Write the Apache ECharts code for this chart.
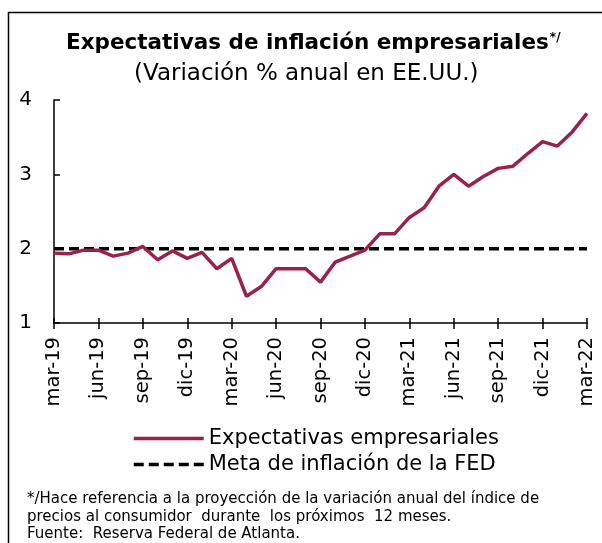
<!DOCTYPE html>
<html>
<head>
<meta charset="utf-8">
<script src="https://cdn.jsdelivr.net/npm/echarts@6/dist/echarts.min.js"></script>
<style>
  html, body { margin: 0; padding: 0; background: #fff; }
  #main { width: 602px; height: 543px; }
</style>
</head>
<body>
<div id="main"></div>
<script>
  // monthly, mar-19 .. mar-22
  const months = [
    'mar-19', 'abr-19', 'may-19', 'jun-19', 'jul-19', 'ago-19', 'sep-19', 'oct-19', 'nov-19', 'dic-19', 'ene-20', 'feb-20',
    'mar-20', 'abr-20', 'may-20', 'jun-20', 'jul-20', 'ago-20', 'sep-20', 'oct-20', 'nov-20', 'dic-20', 'ene-21', 'feb-21',
    'mar-21', 'abr-21', 'may-21', 'jun-21', 'jul-21', 'ago-21', 'sep-21', 'oct-21', 'nov-21', 'dic-21', 'ene-22', 'feb-22',
    'mar-22'
  ];
  const expectativas = [
    1.94, 1.93, 1.98, 1.98, 1.90, 1.94, 2.03, 1.85, 1.97, 1.87, 1.95, 1.73,
    1.87, 1.36, 1.49, 1.73, 1.73, 1.73, 1.55, 1.82, 1.90, 1.98, 2.20, 2.20,
    2.42, 2.55, 2.84, 3.00, 2.84, 2.97, 3.08, 3.11, 3.28, 3.44, 3.38, 3.57,
    3.82
  ];
  const metaFed = months.map(() => 2);
  const footnote = [
    '*/Hace referencia a la proyección de la variación anual del índice de',
    'precios al consumidor  durante  los próximos  12 meses.',
    'Fuente:  Reserva Federal de Atlanta.'
  ];

  const FONT = '"DejaVu Sans", sans-serif';
  const chart = echarts.init(document.getElementById('main'));

  chart.setOption({
    animation: false,
    textStyle: { fontFamily: FONT, color: '#000' },
    title: [
      {
        text: '{t|Expectativas de inflación empresariales}{s|*/}',
        left: 66,
        top: 32,
        padding: 0,
        textStyle: {
          rich: {
            t: { fontFamily: FONT, fontSize: 21.5, fontWeight: 'bold', color: '#000' },
            s: { fontFamily: FONT, fontSize: 12, fontWeight: 'bold', color: '#000', verticalAlign: 'top', padding: [0, 0, 10, 1] }
          }
        }
      },
      {
        text: '(Variación % anual en EE.UU.)',
        left: 134,
        top: 63,
        padding: 0,
        textStyle: { fontFamily: FONT, fontSize: 23, fontWeight: 'normal', color: '#000' }
      }
    ],
    grid: { left: 54, right: 15, top: 100, bottom: 220 },
    legend: {
      orient: 'vertical',
      left: 127,
      top: 423,
      itemWidth: 70,
      itemHeight: 14,
      itemGap: 5,
      itemStyle: { opacity: 0 },
      lineStyle: { width: 3.5 },
      textStyle: { fontFamily: FONT, fontSize: 21, color: '#000', padding: [0, 0, 0, 0] },
      data: ['Expectativas empresariales', 'Meta de inflación de la FED']
    },
    xAxis: [
      {
        type: 'category',
        data: months,
        boundaryGap: false,
        axisLine: { lineStyle: { color: '#000', width: 1.5 } },
        axisTick: { interval: 2, length: 6, lineStyle: { color: '#000', width: 1.5 } },
        axisLabel: { interval: 2, rotate: 90, fontSize: 19.5, color: '#000', margin: 14, fontFamily: FONT }
      },
      {
        // second axis only for the upward half of the ticks
        type: 'category',
        data: months,
        boundaryGap: false,
        position: 'bottom',
        axisLine: { show: false },
        axisTick: { inside: true, interval: 2, length: 5, lineStyle: { color: '#000', width: 1.5 } },
        axisLabel: { show: false }
      }
    ],
    yAxis: {
      type: 'value',
      min: 1,
      max: 4,
      interval: 1,
      splitLine: { show: false },
      axisLine: { show: true, lineStyle: { color: '#000', width: 1.5 } },
      axisTick: { show: true, inside: true, length: 6, lineStyle: { color: '#000', width: 1.5 } },
      axisLabel: { fontSize: 20, color: '#000', margin: 22, fontFamily: FONT }
    },
    series: [
      {
        name: 'Expectativas empresariales',
        type: 'line',
        data: expectativas,
        symbol: 'none',
        color: '#9b2247',
        lineStyle: { color: '#9b2247', width: 3.5 },
        z: 3
      },
      {
        name: 'Meta de inflación de la FED',
        type: 'line',
        data: metaFed,
        symbol: 'none',
        color: '#000',
        lineStyle: { color: '#000', width: 3.5, type: [10, 5] },
        z: 2
      }
    ],
    graphic: [
      {
        type: 'rect',
        silent: true,
        shape: { x: 8.5, y: 12.5, width: 620, height: 560 },
        style: { fill: 'none', stroke: '#000', lineWidth: 1.5 }
      },
      ...footnote.map((line, i) => ({
        type: 'text',
        left: 27,
        top: 492 + i * 17.5,
        style: { text: line, fontFamily: FONT, fontSize: 15, fill: '#000' }
      }))
    ]
  });
</script>
</body>
</html>
